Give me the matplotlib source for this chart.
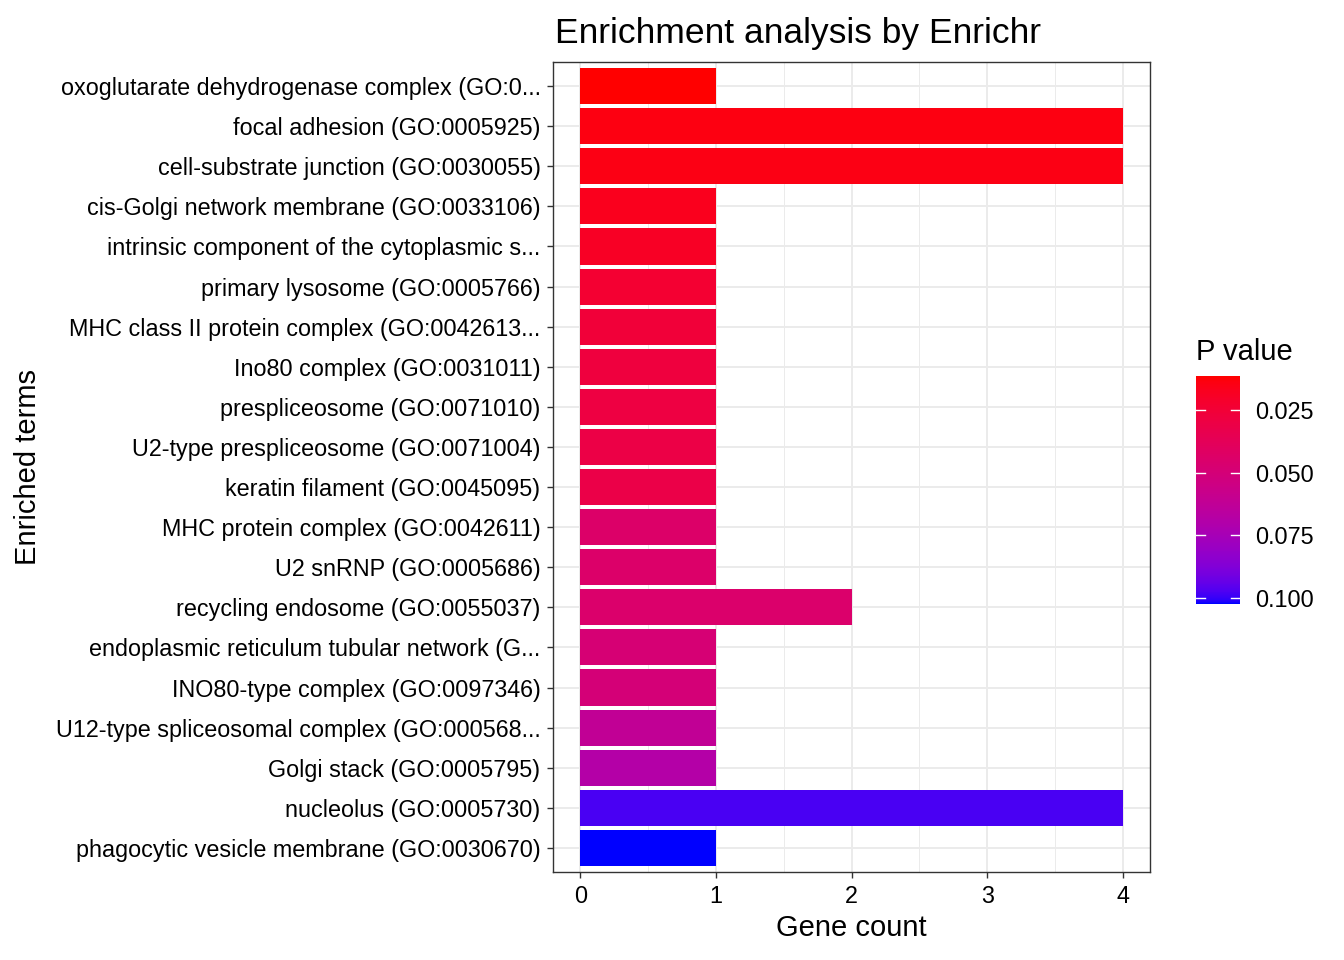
import numpy as np
import matplotlib
matplotlib.use("Agg")
import matplotlib.pyplot as plt
from matplotlib.colors import ListedColormap, Normalize
from matplotlib.cm import ScalarMappable

plt.rcParams["font.family"] = ["Liberation Sans", "DejaVu Sans"]

terms = ["oxoglutarate dehydrogenase complex (GO:0...",
         "focal adhesion (GO:0005925)",
         "cell-substrate junction (GO:0030055)",
         "cis-Golgi network membrane (GO:0033106)",
         "intrinsic component of the cytoplasmic s...",
         "primary lysosome (GO:0005766)",
         "MHC class II protein complex (GO:0042613...",
         "Ino80 complex (GO:0031011)",
         "prespliceosome (GO:0071010)",
         "U2-type prespliceosome (GO:0071004)",
         "keratin filament (GO:0045095)",
         "MHC protein complex (GO:0042611)",
         "U2 snRNP (GO:0005686)",
         "recycling endosome (GO:0055037)",
         "endoplasmic reticulum tubular network (G...",
         "INO80-type complex (GO:0097346)",
         "U12-type spliceosomal complex (GO:000568...",
         "Golgi stack (GO:0005795)",
         "nucleolus (GO:0005730)",
         "phagocytic vesicle membrane (GO:0030670)"]
counts = [1, 4, 4, 1, 1, 1, 1, 1, 1, 1, 1, 1, 1, 2, 1, 1, 1, 1, 4, 1]
pvals = [0.0115, 0.0140, 0.0150, 0.0170, 0.0190, 0.0235, 0.0260, 0.0275, 0.0290, 0.0305,
         0.0315, 0.0440, 0.0445, 0.0450, 0.0490, 0.0500, 0.0620, 0.0690, 0.0980, 0.1024]
cb_ticks = [0.025, 0.050, 0.075, 0.100]


# ggplot-style gradient: red -> blue interpolated in CIELAB
def to_lab(rgb):
    c = np.asarray(rgb, float)
    c = np.where(c > 0.04045, ((c + 0.055) / 1.055) ** 2.4, c / 12.92)
    M = np.array([[0.4124, 0.3576, 0.1805], [0.2126, 0.7152, 0.0722], [0.0193, 0.1192, 0.9505]])
    xyz = M @ c / np.array([0.95047, 1.0, 1.08883])
    f = np.where(xyz > 0.008856, np.cbrt(xyz), 7.787 * xyz + 16 / 116)
    return np.array([116 * f[1] - 16, 500 * (f[0] - f[1]), 200 * (f[1] - f[2])])


def from_lab(lab):
    L, a, b = lab
    fy = (L + 16) / 116; fx = fy + a / 500; fz = fy - b / 200
    f = np.array([fx, fy, fz])
    xyz = np.where(f ** 3 > 0.008856, f ** 3, (f - 16 / 116) / 7.787) * np.array([0.95047, 1.0, 1.08883])
    Mi = np.array([[3.2406, -1.5372, -0.4986], [-0.9689, 1.8758, 0.0415], [0.0557, -0.2040, 1.0570]])
    c = Mi @ xyz
    c = np.where(c > 0.0031308, 1.055 * np.clip(c, 0, None) ** (1 / 2.4) - 0.055, 12.92 * c)
    return np.clip(c, 0, 1)


lo, hi = to_lab([1, 0, 0]), to_lab([0, 0, 1])
cmap = ListedColormap([from_lab(lo + t * (hi - lo)) for t in np.linspace(0, 1, 256)])
norm = Normalize(min(pvals), max(pvals))

fig = plt.figure(figsize=(13.44, 9.6), dpi=100)
ax = fig.add_axes([0.4115, 0.0917, 0.4442, 0.8437])
n = len(terms)
ypos = np.arange(n, 0, -1)
ax.barh(ypos, counts, height=0.9, color=cmap(norm(pvals)), zorder=3)
ax.set_xlim(-0.2, 4.2); ax.set_ylim(0.4, n + 0.6)
ax.set_xticks(range(5)); ax.set_xticks(np.arange(0.5, 4, 1), minor=True)
ax.set_yticks(ypos); ax.set_yticklabels(terms)
ax.grid(which="major", color="#EBEBEB", lw=1.4, zorder=0)
ax.grid(which="minor", axis="x", color="#EBEBEB", lw=0.7, zorder=0)
for s in ax.spines.values():
    s.set_color("#333333"); s.set_linewidth(1.0)
ax.tick_params(which="major", length=4.5, width=1.0, color="#333333", labelsize=16.8, labelcolor="black", pad=4.5)
ax.tick_params(axis="x", pad=5)
ax.tick_params(which="minor", length=0)
ax.set_xlabel("Gene count", fontsize=21, labelpad=4)
ax.set_ylabel("Enriched terms", fontsize=21, labelpad=10)
ax.set_title("Enrichment analysis by Enrichr", fontsize=25.5, loc="left", x=0.003, pad=14)

cax = fig.add_axes([0.8899, 0.3708, 0.0327, 0.2375])
cb = fig.colorbar(ScalarMappable(norm=norm, cmap=cmap), cax=cax)
cb.outline.set_visible(False)
cax.invert_yaxis()
cb.set_ticks(cb_ticks); cb.set_ticklabels(["%.3f" % t for t in cb_ticks])
cax.tick_params(length=0, labelsize=16.8, pad=11)
for t in cb_ticks:
    cax.plot([0, 0.2], [t, t], color="white", lw=1, transform=cax.get_yaxis_transform())
    cax.plot([0.8, 1], [t, t], color="white", lw=1, transform=cax.get_yaxis_transform())
fig.text(0.8899, 0.6255, "P value", fontsize=21, ha="left", va="baseline")

fig.savefig("out.png", dpi=100)
